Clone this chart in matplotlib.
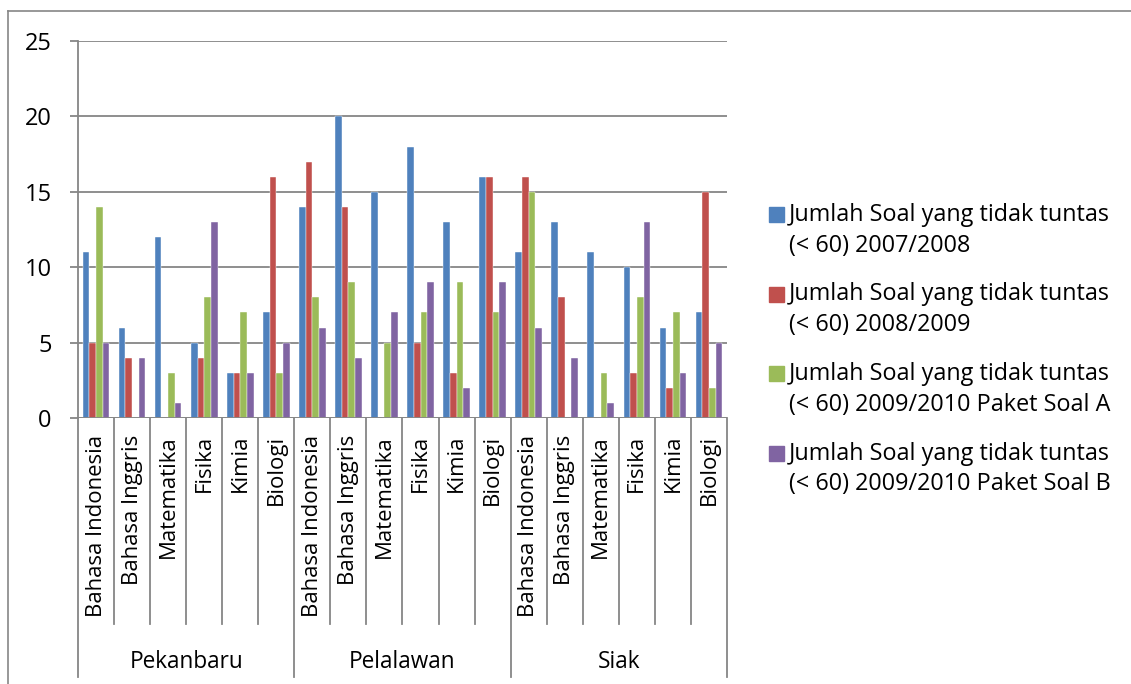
import numpy as np
import matplotlib
matplotlib.use("Agg")
import matplotlib.pyplot as plt
from matplotlib.lines import Line2D
from matplotlib.patches import Rectangle

plt.rcParams['font.family'] = ['Open Sans', 'DejaVu Sans']

subjects = ["Bahasa Indonesia", "Bahasa Inggris", "Matematika", "Fisika", "Kimia", "Biologi"]
regions = ["Pekanbaru", "Pelalawan", "Siak"]

# values per region, in subject order
s0708 = [11, 6, 12, 5, 3, 7,   14, 20, 15, 18, 13, 16,   11, 13, 11, 10, 6, 7]
s0809 = [5, 4, 0, 4, 3, 16,    17, 14, 0, 5, 3, 16,      16, 8, 0, 3, 2, 15]
s10a = [14, 0, 3, 8, 7, 3,     8, 9, 5, 7, 9, 7,         15, 0, 3, 8, 7, 2]
s10b = [5, 4, 1, 13, 3, 5,     6, 4, 7, 9, 2, 9,         6, 4, 1, 13, 3, 5]

series = [s0708, s0809, s10a, s10b]
labels = ["Jumlah Soal yang tidak tuntas\n(< 60) 2007/2008",
          "Jumlah Soal yang tidak tuntas\n(< 60) 2008/2009",
          "Jumlah Soal yang tidak tuntas\n(< 60) 2009/2010 Paket Soal A",
          "Jumlah Soal yang tidak tuntas\n(< 60) 2009/2010 Paket Soal B"]
colors = ["#4F81BD", "#C0504D", "#9BBB59", "#8064A2"]

W, H = 1131, 684
fig = plt.figure(figsize=(W / 100, H / 100), dpi=100)
ax = fig.add_axes([78 / W, 1 - 418 / H, (727 - 78) / W, (418 - 41) / H])

grey = "#868686"
n = len(subjects) * len(regions)
x = np.arange(n)
bw = 0.185
for i, (vals, c) in enumerate(zip(series, colors)):
    ax.bar(x + (i - 1.5) * bw, vals, bw, color=c, edgecolor="white", linewidth=0.3, zorder=3)

ax.set_xlim(-0.5, n - 0.5)
ax.set_ylim(0, 25)
ax.set_yticks(range(0, 26, 5))
ax.yaxis.grid(True, color=grey, linewidth=1.3, zorder=0)
ax.set_xticks([])
for s in ["top", "right", "bottom"]:
    ax.spines[s].set_visible(False)
ax.spines["left"].set_color(grey)
ax.spines["left"].set_linewidth(1.3)
ax.tick_params(axis="y", length=6, width=1.3, color=grey, labelsize=17, pad=13)
ax.axhline(0, color=grey, linewidth=1.3, zorder=4)

tr = ax.get_xaxis_transform()
ax_h = 418 - 41


def ay(py):
    return -(py - 418) / ax_h


# category labels and separators
for k in range(n):
    ax.text(k, ay(435), subjects[k % len(subjects)], rotation=90, ha="center", va="top",
            fontsize=15.9, transform=tr, clip_on=False)
for k in range(n + 1):
    bottom = ay(677) if k % len(subjects) == 0 else ay(624)
    ax.plot([k - 0.5, k - 0.5], [0, bottom], color=grey, linewidth=1.3, transform=tr, clip_on=False)
for g, r in enumerate(regions):
    ax.text(g * len(subjects) + len(subjects) / 2 - 0.5, ay(662), r, ha="center", va="center",
            fontsize=16.3, transform=tr, clip_on=False)

# legend
for i, (lab, c) in enumerate(zip(labels, colors)):
    ty = 215 + i * 79.5
    fig.add_artist(Rectangle((769 / W, 1 - (ty + 7) / H), 15 / W, 15 / H, color=c,
                             transform=fig.transFigure))
    fig.text(789 / W, 1 - (ty - 12) / H, lab, ha="left", va="top", fontsize=16.8, linespacing=1.38)

# outer frame
fig.add_artist(Line2D([8 / W, 8 / W], [0, 1 - 11 / H], color=grey, linewidth=1.2))
fig.add_artist(Line2D([8 / W, 1], [1 - 11 / H, 1 - 11 / H], color=grey, linewidth=1.2))

fig.savefig("out.png", dpi=100)
